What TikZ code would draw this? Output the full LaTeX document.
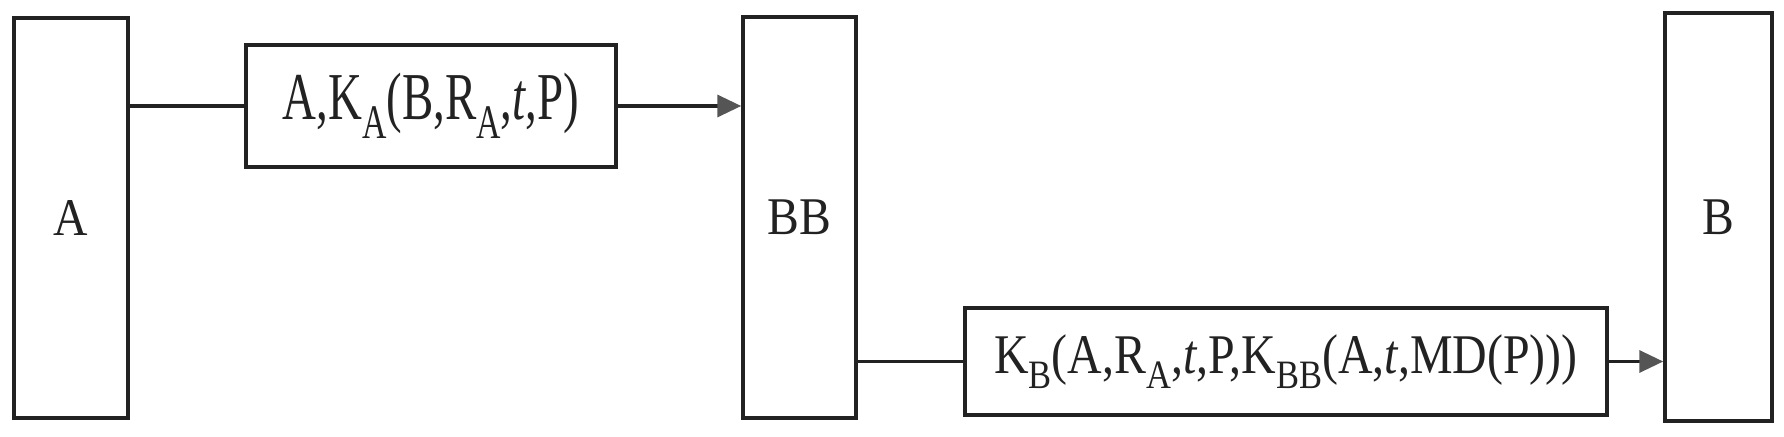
\documentclass[tikz,border=0pt]{standalone}
\usepackage{fontspec}
\setmainfont{Liberation Serif}
\usetikzlibrary{arrows.meta}
\definecolor{ink}{HTML}{222222}
\definecolor{tipgray}{HTML}{555555}
\newcommand{\lowsub}[1]{\raisebox{-0.28em}{\scalebox{0.72}{#1}}}
\newcommand{\squeeze}[2]{\scalebox{#1}[1]{#2}}
\tikzset{
  party/.style={draw=ink, line width=3.5pt, inner sep=0pt, text=ink, font=\fontsize{53}{60}\selectfont},
  msg/.style={draw=ink, line width=3.5pt, inner sep=0pt, text=ink},
  link/.style={draw=ink, line width=3.5pt},
  sendarrow/.style={link, -{Triangle[length=24pt,width=22pt,fill=tipgray,color=tipgray]}}
}
\begin{document}
\begin{tikzpicture}[x=1pt,y=1pt]
\useasboundingbox (0,0) rectangle (1784,436);
\node[party, minimum width=114pt, minimum height=400pt] (A) at (71,218) {\squeeze{0.9}{A}};
\node[party, minimum width=113pt, minimum height=401pt] (BB) at (799.5,218.5) {\squeeze{0.9}{BB}};
\node[party, minimum width=107pt, minimum height=408pt] (B) at (1718.5,219) {\squeeze{0.9}{B}};
\node[msg, minimum width=370pt, minimum height=122pt, font=\fontsize{67}{72}\selectfont] (m1) at (431,330)
  {\squeeze{0.70}{A,K\lowsub{A}(B,R\lowsub{A},\textit{t},P)}};
\node[msg, minimum width=642pt, minimum height=107pt, font=\fontsize{56}{62}\selectfont] (m2) at (1286,74.5)
  {\squeeze{0.855}{K\lowsub{B}(A,R\lowsub{A},\textit{t},P,K\lowsub{BB}(A,\textit{t},MD(P)))}};
\draw[link] (m1.west -| A.east) -- (m1.west);
\draw[sendarrow] (m1.east) -- (m1.east -| BB.west);
\draw[link] (m2.west -| BB.east) -- (m2.west);
\draw[sendarrow] (m2.east) -- (m2.east -| B.west);
\end{tikzpicture}
\end{document}
